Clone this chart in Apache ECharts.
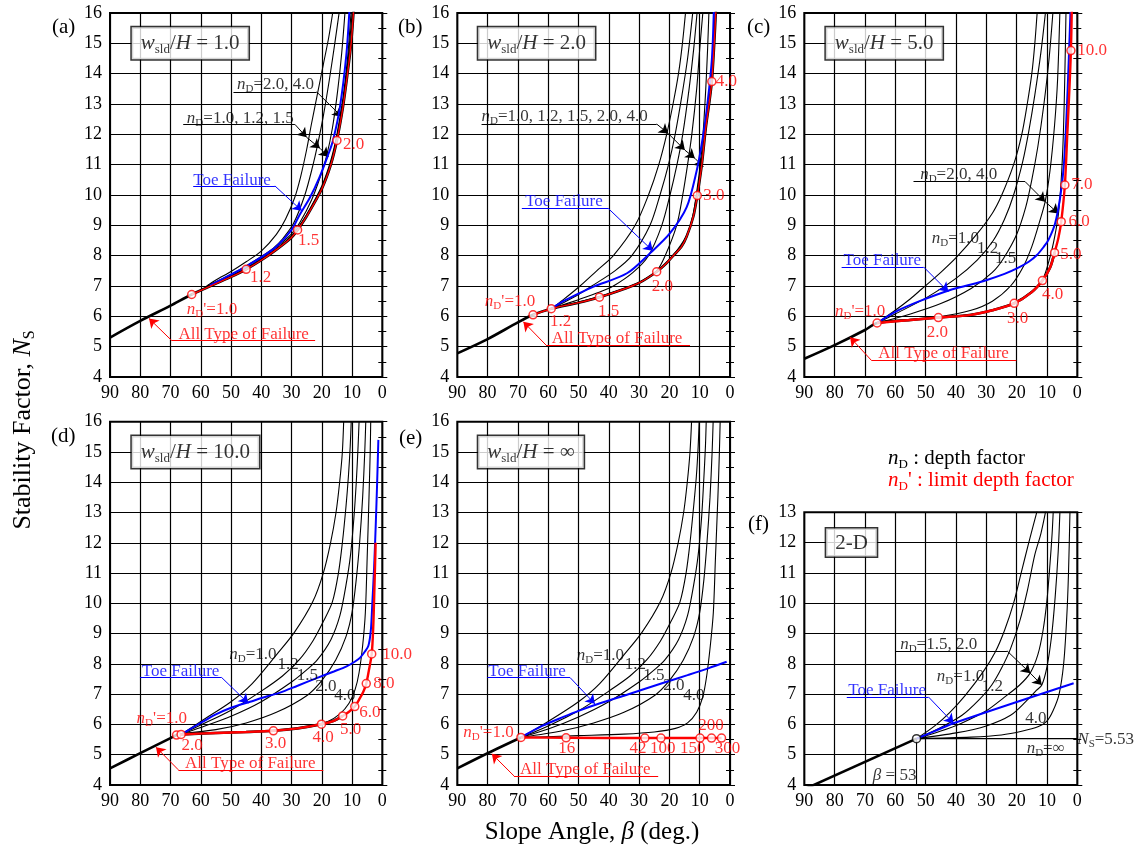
<!DOCTYPE html>
<html>
<head>
<meta charset="utf-8">
<title>Stability factor charts</title>
<script src="https://cdn.jsdelivr.net/npm/echarts@6/dist/echarts.min.js"></script>
<style>
html, body { margin:0; padding:0; background:#fff; }
#chart { width:1138px; height:847px; }
</style>
</head>
<body>
<div id="chart"></div>
<script>
// ---------- data: [slope angle (deg), Ns] ----------
// (a) wsld/H = 1.0
var aBase  = [[90,5.3],[80,5.85],[70,6.35],[63,6.72],[55,7.08],[50,7.3],[45,7.55],[40,7.85],[35,8.2],[30,8.6],[28,8.85],[25,9.3],[20,10.2],[17,11.0],[15,11.8],[13,12.9],[11.5,14],[10.3,15],[9.4,16.2]];
var aLimit = [[63,6.72],[55,7.08],[50,7.3],[45,7.55],[40,7.85],[35,8.2],[30,8.6],[28,8.85],[25,9.3],[20,10.2],[17,11.0],[15,11.8],[13,12.9],[11.5,14],[10.3,15],[9.4,16.2]];
var aLimitPts = [[63,6.72],[45,7.55],[28,8.85],[15,11.8]];
var aNd10 = [[58,7.0],[55,7.2],[50,7.48],[45,7.8],[40,8.15],[35,8.7],[32,9.2],[29,9.9],[27,10.6],[25,11.5],[23.5,12.3],[21.5,13.3],[19.5,14.3],[17.7,15.2],[16.1,16.2]];
var aNd12 = [[58,7.0],[55,7.14],[50,7.38],[45,7.66],[40,7.97],[36,8.25],[33,8.55],[29.4,9.05],[25.6,10],[23,10.95],[21.5,11.6],[19.5,12.6],[17.5,13.8],[15.7,15],[14,16.2]];
var aNd15 = [[58,7.0],[55,7.12],[50,7.34],[45,7.6],[40,7.91],[35,8.28],[30,8.72],[27.2,9.1],[23.3,9.85],[20.5,10.6],[18.4,11.29],[16.5,12.2],[14.8,13.4],[13.4,14.7],[12.2,16.2]];
var aNd20 = [[55,7.09],[50,7.31],[45,7.57],[40,7.87],[35,8.22],[30,8.65],[28,8.9],[25,9.36],[20,10.3],[17,11.15],[15,12.0],[13,13.2],[11.5,14.5],[10.2,16.2]];
var aNd40 = [[55,7.08],[50,7.3],[45,7.56],[40,7.86],[35,8.21],[30,8.62],[28,8.87],[25,9.32],[20,10.22],[17,11.05],[15,11.85],[13,13.0],[11.3,14.5],[9.8,16.2]];
var aToe  = [[57,7.02],[55,7.12],[50,7.38],[45,7.65],[40,7.95],[35,8.3],[30,8.85],[27.3,9.35],[24,9.9],[20.7,10.6],[18,11.3],[16.3,11.8],[14,12.9],[11.9,14.6],[10.8,16.2]];

// (b) wsld/H = 2.0
var bBase  = [[90,4.78],[80,5.25],[70,5.8],[65,6.05],[59,6.25],[50,6.45],[43.1,6.63],[35,6.9],[30,7.1],[24.2,7.47],[21,7.75],[18.7,8.0],[16,8.3],[14.3,8.63],[12.1,9.29],[10.8,9.98],[9.3,11],[8,12.2],[6.9,13],[6,13.74],[5.2,15],[4.6,16.2]];
var bLimit = [[65,6.05],[59,6.25],[50,6.45],[43.1,6.63],[35,6.9],[30,7.1],[24.2,7.47],[21,7.75],[18.7,8.0],[16,8.3],[14.3,8.63],[12.1,9.29],[10.8,9.98],[9.3,11],[8,12.2],[6.9,13],[6,13.74],[5.2,15],[4.6,16.2]];
var bLimitPts = [[65,6.05],[59,6.25],[43.1,6.63],[24.2,7.47],[10.8,9.98],[6.0,13.74]];
var bNd10 = [[59,6.25],[55,6.55],[49.5,7],[44,7.5],[38.5,8],[31.3,9],[26.9,10],[23.5,11],[20.9,12],[18.8,13],[17,14],[15.7,15],[14.5,16.2]];
var bNd12 = [[59,6.25],[55,6.45],[50,6.72],[45.6,7],[38,7.5],[32.4,8],[26.4,9],[23.1,10],[20.3,11],[18.1,12],[16,13.2],[14,14.5],[12.1,16.2]];
var bNd15 = [[59,6.25],[50,6.55],[43,6.8],[38.5,7],[32,7.45],[26.9,8],[22.5,9],[19.8,10],[17.5,11],[15.6,12],[13.5,13.5],[12,14.8],[10.7,16.2]];
var bNd20 = [[59,6.25],[50,6.47],[43.1,6.65],[35,6.92],[30,7.12],[24.2,7.5],[21.4,8],[17.6,9],[15.6,10],[14,11],[12.6,12],[11,13.5],[10,14.8],[8.8,16.2]];
var bNd40 = [[59,6.25],[50,6.46],[43.1,6.64],[35,6.91],[30,7.11],[24.2,7.48],[18.7,8.02],[14.3,8.67],[12.3,9.3],[11,10.1],[9.8,11],[8.9,12],[8,13.5],[7.4,14.8],[6.9,16.2]];
var bToe  = [[59,6.25],[55,6.5],[50,6.75],[45,6.98],[34,7.42],[26.4,8.08],[19.8,8.74],[14.3,9.6],[11,10.8],[9.3,11.7],[7.7,12.8],[6,14.45],[5.3,16.2]];

// (c) wsld/H = 5.0
var cBase  = [[90,4.6],[80,5.05],[70,5.55],[66,5.78],[55,5.88],[45.8,5.96],[35,6.05],[28,6.2],[20.8,6.43],[15,6.8],[11.5,7.18],[9,7.6],[7.5,8.1]];
var cLimit = [[66,5.78],[55,5.88],[45.8,5.96],[35,6.05],[28,6.2],[20.8,6.43],[15,6.8],[11.5,7.18],[9,7.6],[7.5,8.1],[6.2,8.6],[5.3,9.12],[4.1,10.33],[3.3,12],[2.6,13.5],[2.1,14.76],[1.8,16.2]];
var cLimitPts = [[66,5.78],[45.8,5.96],[20.8,6.43],[11.5,7.18],[7.5,8.1],[5.3,9.12],[4.1,10.33],[2.1,14.76]];
var cNd10 = [[66,5.78],[60,6.2],[55,6.58],[51.3,6.9],[45,7.45],[39.8,7.95],[33.2,8.7],[28,9.4],[24.9,10],[21,11],[18.3,12],[16.5,13],[15,14],[14,15],[13.1,16.2]];
var cNd12 = [[66,5.78],[60,6.08],[50,6.6],[40,7.25],[33,7.85],[27.7,8.5],[24,9.2],[21,10],[18,11.1],[16,12.1],[14,13.3],[12,14.7],[10.3,16.2]];
var cNd15 = [[66,5.78],[55,6.08],[45,6.42],[35,6.92],[28,7.45],[24.4,7.9],[20,8.7],[17,9.6],[15,10.5],[13,11.6],[11,13],[9.3,14.5],[7.9,16.2]];
var cNd20 = [[66,5.78],[55,5.9],[45.8,5.98],[35,6.2],[28,6.5],[22,7.0],[18,7.6],[15,8.3],[12.5,9.1],[10.6,9.78],[9,10.8],[7.5,12.3],[6.5,13.8],[5.7,16.2]];
var cNd40 = [[66,5.78],[45.8,5.97],[35,6.06],[28,6.21],[20.8,6.44],[15,6.82],[11.5,7.2],[9,7.95],[7.5,8.6],[6.2,9.39],[5.3,10.5],[4.6,12],[4.1,14],[3.7,16.2]];
var cToe  = [[66,5.78],[60,6.15],[52,6.5],[41.9,6.87],[35,7.05],[29.8,7.2],[24,7.4],[19.9,7.58],[16,7.8],[13.3,8.02],[11,8.3],[9.5,8.52],[7.3,9.07],[5.6,9.95],[4.5,10.9],[3.6,12.5],[2.8,14.5],[2.2,16.2]];

// (d) wsld/H = 10.0
var dBase  = [[90,4.55],[80,5.05],[70,5.55],[68,5.65],[66.5,5.67],[55,5.72],[45,5.75],[36,5.79],[28,5.87],[20.1,6.01],[16,6.12],[13.1,6.28]];
var dLimit = [[68,5.65],[66.5,5.67],[55,5.72],[45,5.75],[36,5.79],[28,5.87],[20.1,6.01],[16,6.12],[13.1,6.28],[11,6.42],[9.1,6.59],[7.5,6.85],[6.2,7.1],[5.3,7.35],[4.5,7.75],[3.5,8.33],[3.0,9.2],[2.6,10.5],[2.2,12]];
var dLimitPts = [[68,5.65],[66.5,5.67],[36,5.79],[20.1,6.01],[13.1,6.28],[9.1,6.59],[5.3,7.35],[3.5,8.33]];
var dNd10 = [[66,5.7],[60,6.1],[50,6.75],[43,7.35],[35,8.3],[29,9.05],[23,10.05],[19.5,11],[17.1,12],[15.3,13],[14.1,14],[13.2,15],[12.7,16.2]];
var dNd12 = [[66,5.7],[60,5.98],[50,6.47],[40,7.1],[33,7.6],[27.5,8.13],[23,8.75],[19.5,9.4],[16.5,10.05],[14.5,11],[13.2,12],[12,13.2],[11.2,14.2],[10.6,15.2],[10.2,16.2]];
var dNd15 = [[66,5.7],[60,5.9],[50,6.27],[40,6.75],[30,7.4],[25,7.8],[21.5,8.13],[17,8.8],[14,9.6],[12,10.6],[10.5,11.6],[9.4,12.8],[8.6,14],[8,15.2],[7.6,16.2]];
var dNd20 = [[66,5.7],[55,5.83],[45,6.05],[35,6.4],[25,6.95],[20,7.45],[15.4,8.13],[12,8.9],[10,9.7],[8.6,10.8],[7.5,12],[6.5,13.5],[5.8,15],[5.4,16.2]];
var dNd40 = [[66,5.7],[50,5.74],[36,5.8],[25,5.92],[18,6.1],[14,6.35],[11,6.7],[9,7.15],[7.7,7.7],[6.5,8.6],[5.6,9.7],[5,11.5],[4.4,13.5],[4,15],[3.8,16.2]];
var dToe  = [[66,5.7],[60,6.05],[55,6.33],[50,6.55],[43.7,6.75],[38,6.93],[33.8,7.05],[28,7.28],[21.7,7.53],[16,7.75],[11.8,7.92],[9,8.08],[7.4,8.2],[5.8,8.4],[4.6,8.6],[3.8,9.1],[3.3,10],[2.7,11.2],[2.2,12.5],[1.7,14],[1.3,15.4]];

// (e) wsld/H = infinity
var eBase  = [[90,4.55],[80,5.05],[69,5.57]];
var eLimit = [[69,5.57],[54.1,5.56],[28.1,5.55],[2.8,5.55]];
var eLimitPts = [[69,5.57],[54.1,5.56],[28.1,5.55],[22.8,5.55],[9.9,5.55],[6.1,5.55],[2.8,5.55]];
var eNd10 = [[69,5.57],[60,6.1],[50,6.75],[43,7.35],[35,8.3],[29,9.05],[23,10.05],[19.5,11],[17.1,12],[15.3,13],[14.1,14],[13.2,15],[12.6,16.2]];
var eNd12 = [[69,5.57],[60,5.95],[50,6.45],[40,7.1],[33,7.6],[27.5,8.13],[23,8.75],[19.5,9.4],[16.5,10.05],[14.5,11],[13.2,12],[12,13.2],[11.1,14.2],[10.5,15.2],[10.1,16.2]];
var eNd15 = [[69,5.57],[60,5.85],[50,6.25],[40,6.75],[30,7.4],[25,7.8],[21.5,8.13],[17,8.8],[14,9.6],[12,10.6],[10.5,11.6],[9.4,12.8],[8.7,14],[8.1,15.2],[7.8,16.2]];
var eNd20 = [[69,5.57],[55,5.8],[45,6.05],[35,6.4],[25,6.95],[20,7.45],[15.4,8.13],[12,8.9],[10,9.7],[8.6,10.8],[7.6,12],[6.6,13.5],[5.9,15],[5.5,16.2]];
var eNd40 = [[69,5.57],[50,5.63],[35,5.68],[25,5.75],[18,5.87],[14,6.05],[11,6.4],[9,6.9],[7.7,7.6],[6.5,8.6],[5.5,9.7],[4.8,11.5],[4,13.5],[3.5,15],[3.2,16.2]];
var eToe  = [[69,5.57],[62,5.95],[55,6.25],[50,6.45],[42.9,6.7],[35,6.95],[28,7.18],[20.9,7.41],[14,7.63],[7,7.86],[1.1,8.07]];

// (f) 2-D
var fBase  = [[90,3.86],[53,5.53]];
var fInf   = [[53,5.53],[0,5.53]];
var fDrop  = [[53,5.53],[53,4]];
var fLimitPts = [[53,5.53]];
var fNd10 = [[53,5.53],[47,5.95],[42,6.4],[37,6.95],[31,7.74],[27,8.4],[24,9.1],[21,10],[18.5,11],[16,12],[13.1,13.1]];
var fNd12 = [[53,5.53],[45,5.9],[38,6.3],[32.5,6.8],[28.2,7.3],[25,7.85],[22,8.5],[19,9.4],[16.5,10.4],[14,11.6],[12,12.3],[10.3,13.1]];
var fNd15 = [[53,5.53],[45,5.78],[38,6.05],[30,6.45],[24,6.9],[19,7.3],[15.5,7.7],[13,8.3],[11.3,9.1],[10,10.1],[9,11.3],[8.3,12.3],[7.9,13.1]];
var fNd20 = [[53,5.53],[40,5.72],[30,5.95],[22,6.3],[17,6.75],[13.5,7.12],[11.7,7.3],[10,7.9],[8.5,8.9],[7.3,10.2],[6.3,11.7],[5.7,13.1]];
var fNd40 = [[53,5.53],[35,5.58],[25,5.65],[18,5.78],[13,5.92],[10.1,6.1],[8,6.45],[6,7.0],[4.5,8.0],[3.5,9.5],[2.9,11],[2.4,13.1]];
var fToe  = [[53,5.53],[47,5.78],[40.8,6.04],[1.2,7.36]];

// annotation texts: [x, y, text, colour]
var aTexts = [[48,13.63,'{i|n}{s|D}=2.0, 4.0','k'],[64.6,12.53,'{i|n}{s|D}=1.0, 1.2, 1.5','k'],[62.5,10.49,'Toe Failure','b'],
  [64.6,6.21,"{i|n}{s|D}'=1.0",'r'],[67.4,5.41,'All Type of Failure','r'],[43.7,7.27,'1.2','r'],[27.9,8.5,'1.5','r'],[13,11.65,'2.0','r']];
var bTexts = [[82,12.58,'{i|n}{s|D}=1.0, 1.2, 1.5, 2.0, 4.0','k'],[67.6,9.78,'Toe Failure','b'],[80.9,6.48,"{i|n}{s|D}'=1.0",'r'],
  [58.8,5.27,'All Type of Failure','r'],[59.4,5.82,'1.2','r'],[43.6,6.15,'1.5','r'],[25.8,6.97,'2.0','r'],[8.8,9.98,'3.0','r'],[4.7,13.74,'4.0','r']];
var cTexts = [[51.8,10.66,'{i|n}{s|D}=2.0, 4.0','k'],[48,8.57,'{i|n}{s|D}=1.0','k'],[33.1,8.24,'1.2','k'],[27.1,7.91,'1.5','k'],
  [77.1,7.85,'Toe Failure','b'],[79.9,6.15,"{i|n}{s|D}'=1.0",'r'],[65.6,4.76,'All Type of Failure','r'],
  [49.6,5.47,'2.0','r'],[23.2,5.93,'3.0','r'],[11.6,6.73,'4.0','r'],[5.6,8.05,'5.0','r'],[2.9,9.13,'6.0','r'],[2.0,10.33,'7.0','r'],[0,14.76,'10.0','r']];
var dTexts = [[50.6,8.3,'{i|n}{s|D}=1.0','k'],[34.6,7.97,'1.2','k'],[28.3,7.6,'1.5','k'],[22.2,7.25,'2.0','k'],[15.9,6.97,'4.0','k'],
  [79.5,7.74,'Toe Failure','b'],[81.2,6.2,"{i|n}{s|D}'=1.0",'r'],[65.2,4.72,'All Type of Failure','r'],
  [66.4,5.32,'2.0','r'],[38.8,5.38,'3.0','r'],[23.1,5.58,'4.0','r'],[14,5.82,'5.0','r'],[7.6,6.39,'6.0','r'],[3.0,7.34,'8.0','r'],[0,8.3,'10.0','r']];
var eTexts = [[50.6,8.26,'{i|n}{s|D}=1.0','k'],[34.7,7.97,'1.2','k'],[28.6,7.6,'1.5','k'],[22,7.3,'2.0','k'],[15.4,6.97,'4.0','k'],
  [79.8,7.74,'Toe Failure','b'],[88,5.73,"{i|n}{s|D}'=1.0",'r'],[69.3,4.52,'All Type of Failure','r'],
  [56.7,5.21,'16','r'],[33.2,5.21,'42','r'],[26.4,5.21,'100','r'],[16.5,5.21,'150','r'],[5,5.21,'300','r'],[10.5,5.95,'200','r']];
var fTexts = [[58.4,8.64,'{i|n}{s|D}=1.5, 2.0','k'],[46.3,7.59,'{i|n}{s|D}=1.0','k'],[31.5,7.26,'1.2','k'],[17.2,6.2,'4.0','k'],
  [75.5,7.13,'Toe Failure','b'],[16.7,5.19,'{i|n}{s|D}=∞','k'],[0,5.49,'{i|N}{s|S}=5.53','k'],[67.4,4.3,'{i|β} = 53','k']];

// leader lines: [x1, y1, x2, y2, arrow, colour]
var aLeaders = [[49.2,13.4,21.7,13.4,0,'k'],[21.7,13.4,13.4,12.58,1,'k'],
  [65.8,12.33,28.9,12.33,0,'k'],[28.9,12.33,25,11.9,1,'k'],[25,11.9,20.6,11.54,1,'k'],[20.6,11.54,17.8,11.26,1,'k'],
  [62.5,10.3,35.5,10.3,0,'b'],[35.5,10.3,26.6,9.48,1,'b'],
  [69.6,5.2,22.2,5.2,0,'r'],[69.6,5.2,77.1,5.93,1,'r']];
var bLeaders = [[82,12.34,24.2,12.34,0,'k'],[24.2,12.34,20.4,12.03,1,'k'],[20.4,12.03,14.9,11.48,1,'k'],[14.9,11.48,11.6,11.21,1,'k'],[11.6,11.21,8.8,10.93,1,'k'],
  [68.7,9.56,40.2,9.56,0,'b'],[40.2,9.56,25.5,8.16,1,'b'],
  [60.7,5.05,13.2,5.05,0,'r'],[60.7,5.05,68.2,5.82,1,'r']];
var cLeaders = [[54,10.44,17.2,10.44,0,'k'],[17.2,10.44,10.6,9.78,1,'k'],[10.6,9.78,6.2,9.39,1,'k'],
  [77.7,7.63,50.7,7.63,0,'b'],[50.7,7.63,42.5,6.81,1,'b'],
  [67.8,4.54,20.1,4.54,0,'r'],[67.8,4.54,74.9,5.31,1,'r']];
var dLeaders = [[80.1,7.55,53.1,7.55,0,'b'],[53.1,7.55,44.3,6.7,1,'b'],
  [67.4,4.5,19.5,4.5,0,'r'],[67.4,4.5,74.8,5.25,1,'r']];
var eLeaders = [[80.1,7.55,52.8,7.55,0,'b'],[52.8,7.55,44.6,6.68,1,'b'],
  [71.3,4.3,23.7,4.3,0,'r'],[71.3,4.3,78.6,5.03,1,'r']];
var fLeaders = [[59.8,8.43,23.2,8.43,0,'k'],[23.2,8.43,15.5,7.69,1,'k'],[15.5,7.69,11.7,7.3,1,'k'],
  [76,6.91,49.1,6.91,0,'b'],[49.1,6.91,40.8,6.04,1,'b']];

// boxed panel titles: [x, y, text]
var aBox = [82.8,15.0,'{i|w}{s|sld}/{i|H} = 1.0'];
var bBox = [83.1,15.0,'{i|w}{s|sld}/{i|H} = 2.0'];
var cBox = [82.9,15.0,'{i|w}{s|sld}/{i|H} = 5.0'];
var dBox = [82.8,15.0,'{i|w}{s|sld}/{i|H} = 10.0'];
var eBox = [83.1,15.0,'{i|w}{s|sld}/{i|H} = ∞'];
var fBox = [82.8,12.0,'2-D'];

var xTicks = [90,80,70,60,50,40,30,20,10,0];

// ---------- chart ----------
var FONT = '"Liberation Serif", "Times New Roman", serif';
var COL = {k:'#000000', r:'#ff0000', b:'#0000ff'};
var ANN = 17;   // annotation font size

function rich(size, color) {
	return {
		i: {fontStyle:'italic', fontSize:size, fontFamily:FONT, color:color},
		s: {fontSize:Math.round(size*0.62), fontFamily:FONT, color:color, verticalAlign:'bottom', padding:[Math.round(size*0.55),0,0,0]}
	};
}

var panels = [
	{g:[110,13,272.3,364], ymax:16, nd:[aNd10,aNd12,aNd15,aNd20,aNd40], base:aBase, toe:aToe, lim:aLimit, limW:1.4, pts:aLimitPts, ptCol:COL.r, texts:aTexts, leaders:aLeaders, box:aBox},
	{g:[457.3,13,272.7,364], ymax:16, nd:[bNd10,bNd12,bNd15,bNd20,bNd40], base:bBase, toe:bToe, lim:bLimit, limW:1.4, pts:bLimitPts, ptCol:COL.r, texts:bTexts, leaders:bLeaders, box:bBox},
	{g:[804.3,13,273,364], ymax:16, nd:[cNd10,cNd12,cNd15,cNd20,cNd40], base:cBase, toe:cToe, lim:cLimit, limW:2.4, pts:cLimitPts, ptCol:COL.r, texts:cTexts, leaders:cLeaders, box:cBox},
	{g:[110,421.7,272.3,363.3], ymax:16, nd:[dNd10,dNd12,dNd15,dNd20,dNd40], base:dBase, toe:dToe, lim:dLimit, limW:2.4, pts:dLimitPts, ptCol:COL.r, texts:dTexts, leaders:dLeaders, box:dBox},
	{g:[457.3,421.7,272.7,363.3], ymax:16, nd:[eNd10,eNd12,eNd15,eNd20,eNd40], base:eBase, toe:eToe, lim:eLimit, limW:2.4, pts:eLimitPts, ptCol:COL.r, texts:eTexts, leaders:eLeaders, box:eBox},
	{g:[804.3,512.3,273,272.7], ymax:13, nd:[fNd10,fNd12,fNd15,fNd20,fNd40,fInf,fDrop], base:fBase, toe:fToe, lim:null, limW:0, pts:fLimitPts, ptCol:COL.k, texts:fTexts, leaders:fLeaders, box:fBox}
];

var grids = [], xAxes = [], yAxes = [], series = [];

function lineS(i, data, color, width, z, smooth) {
	return {type:'line', xAxisIndex:i, yAxisIndex:2*i, data:data, symbol:'none', showSymbol:false,
		smooth:smooth, lineStyle:{color:color, width:width}, z:z, silent:true, animation:false};
}

panels.forEach(function(p, i) {
	grids.push({left:p.g[0], top:p.g[1], width:p.g[2], height:p.g[3], show:true, borderColor:'#000', borderWidth:2, backgroundColor:'transparent'});
	xAxes.push({gridIndex:i, type:'value', min:0, max:90, interval:10, inverse:true,
		axisLine:{show:false}, axisTick:{show:false},
		splitLine:{show:true, lineStyle:{color:'#000', width:1.2}},
		axisLabel:{color:'#000', fontSize:18, fontFamily:FONT, margin:7,
			formatter:function(v){ return xTicks.indexOf(v) >= 0 ? String(v) : ''; }}});
	yAxes.push({gridIndex:i, type:'value', min:4, max:p.ymax, interval:1, position:'left',
		axisLine:{show:false}, axisTick:{show:true, inside:true, length:5, lineStyle:{color:'#000'}},
		minorTick:{show:true, splitNumber:2, length:4, lineStyle:{color:'#000'}},
		splitLine:{show:true, lineStyle:{color:'#000', width:1.2}},
		axisLabel:{color:'#000', fontSize:18, fontFamily:FONT, margin:8}});
	yAxes.push({gridIndex:i, type:'value', min:4, max:p.ymax, interval:1, position:'right',
		axisLine:{show:false}, axisTick:{show:true, inside:true, length:5, lineStyle:{color:'#000'}},
		minorTick:{show:true, splitNumber:2, length:4, lineStyle:{color:'#000'}},
		splitLine:{show:false}, axisLabel:{show:false}});

	p.nd.forEach(function(c) { series.push(lineS(i, c, '#000', 1.1, 3, 0.3)); });
	series.push(lineS(i, p.base, '#000', 2.6, 4, 0.3));
	series.push(lineS(i, p.toe, COL.b, 2, 5, 0.3));
	if (p.lim) series.push(lineS(i, p.lim, COL.r, p.limW, 6, 0.3));

	series.push({type:'scatter', xAxisIndex:i, yAxisIndex:2*i, data:p.pts, symbol:'circle', symbolSize:8,
		itemStyle:{color:'#fff', borderColor:p.ptCol, borderWidth:1.5}, z:8, silent:true, animation:false});

	// texts and leader lines
	series.push({type:'scatter', xAxisIndex:i, yAxisIndex:2*i, symbolSize:0, clip:false, silent:true, z:9, animation:false,
		data:p.texts.map(function(t) {
			var c = COL[t[3]];
			return {value:[t[0], t[1]], label:{show:true, position:'right', distance:0, formatter:t[2],
				color:c, fontSize:ANN, fontFamily:FONT, rich:rich(ANN, c)}};
		}),
		markLine:{silent:true, animation:false, symbol:['none','none'], symbolSize:9, label:{show:false},
			data:p.leaders.map(function(l) {
				var c = COL[l[5]];
				return [{coord:[l[0], l[1]], symbol:'none', lineStyle:{color:c, width:1, type:'solid'}},
				        {coord:[l[2], l[3]], symbol:l[4] ? 'arrow' : 'none', lineStyle:{color:c, width:1, type:'solid'}}];
			})}
	});

	// boxed title
	series.push({type:'scatter', xAxisIndex:i, yAxisIndex:2*i, symbolSize:0, clip:false, silent:true, z:12, animation:false,
		data:[{value:[p.box[0], p.box[1]], label:{show:true, position:'right', distance:0, formatter:p.box[2],
			color:'#000', fontSize:21, fontFamily:FONT, rich:rich(21, '#000'),
			backgroundColor:'#fff', borderColor:'#000', borderWidth:1.5, padding:[4,9,3,9]}}]});
});

function gtext(x, y, text, size, color, extra) {
	var o = {type:'text', x:x, y:y, z:20, silent:true,
		style:{text:text, fontSize:size, fontFamily:FONT, fill:color,
			rich:{i:{fontStyle:'italic', fontSize:size, fontFamily:FONT, fill:color},
			      s:{fontSize:Math.round(size*0.62), fontFamily:FONT, fill:color, verticalAlign:'bottom', padding:[Math.round(size*0.55),0,0,0]}}}};
	for (var k in extra) o[k] = extra[k];
	return o;
}

var graphics = [
	gtext(52, 17, '(a)', 21, '#000'), gtext(398, 17, '(b)', 21, '#000'), gtext(747, 17, '(c)', 21, '#000'),
	gtext(51, 426, '(d)', 21, '#000'), gtext(399, 428, '(e)', 21, '#000'), gtext(748, 514, '(f)', 21, '#000'),
	gtext(888, 446, '{i|n}{s|D} : depth factor', 21, '#000'),
	gtext(888, 468, "{i|n}{s|D}' : limit depth factor", 21, COL.r),
	gtext(592, 820, 'Slope Angle, {i|β} (deg.)', 25, '#000'),
	gtext(8, 430, 'Stability Factor, {i|N}{s|S}', 26, '#000', {rotation:Math.PI/2})
];
graphics[8].style.align = 'center';
graphics[9].style.align = 'center';
graphics[9].style.verticalAlign = 'top';

var myChart = echarts.init(document.getElementById('chart'));
myChart.setOption({
	animation:false,
	backgroundColor:'#fff',
	grid:grids, xAxis:xAxes, yAxis:yAxes, series:series, graphic:graphics
});
</script>
</body>
</html>
